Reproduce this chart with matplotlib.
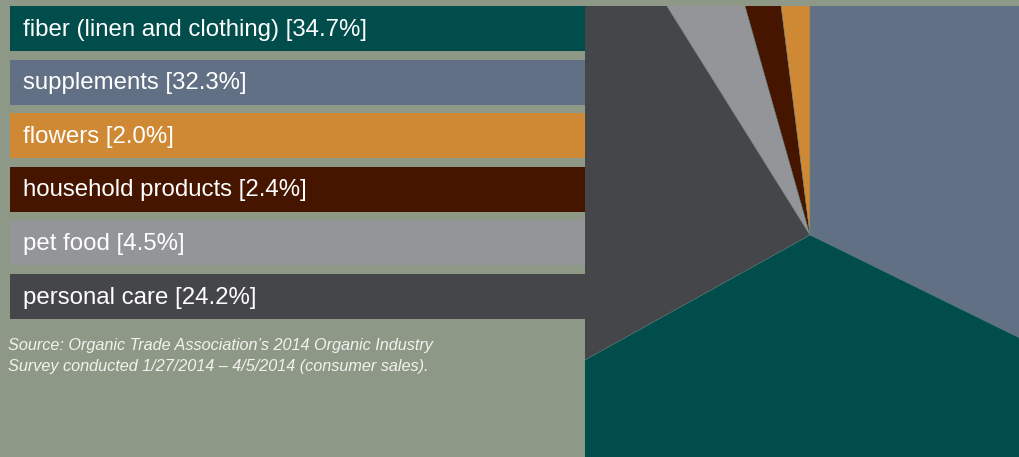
import matplotlib
matplotlib.use("Agg")
import matplotlib.pyplot as plt

# Organic non-food sales share by category (percent)
categories = ["fiber (linen and clothing)", "supplements", "flowers",
              "household products", "pet food", "personal care"]
shares = [34.7, 32.3, 2.0, 2.4, 4.5, 24.2]
colors = ["#014D4B", "#617084", "#CF8935", "#461500", "#939598", "#454649"]
# order in which the wedges run clockwise from 12 o'clock
pie_order = [1, 0, 5, 4, 3, 2]

source_note = ("Source: Organic Trade Association\u2019s 2014 Organic Industry\n"
               "Survey conducted 1/27/2014 \u2013 4/5/2014 (consumer sales).")

BG = "#8E9886"
W, H = 1019, 457
fig = plt.figure(figsize=(W / 100, H / 100), dpi=100, facecolor=BG)
plt.rcParams["font.family"] = ["Liberation Sans", "DejaVu Sans"]


def px_axes(x0, y0, x1, y1):
    """Axes from pixel box (top-left origin)."""
    return fig.add_axes([x0 / W, 1 - y1 / H, (x1 - x0) / W, (y1 - y0) / H])


# --- category rows on the left -------------------------------------------
axb = px_axes(10, 1.7, 585, 323.3)
axb.set_facecolor("none")
n = len(categories)
ypos = list(range(n))
axb.barh(ypos, [1] * n, height=0.84, left=0, color=colors, edgecolor="none")
axb.set_xlim(0, 1)
axb.set_ylim(n - 0.5, -0.5)
axb.axis("off")
for i, (name, val) in enumerate(zip(categories, shares)):
    axb.text(0.023, i + 0.02, f"{name} [{val:.1f}%]", color="white",
             fontsize=17.3, va="center", ha="left",
             transform=axb.get_yaxis_transform())

fig.text(8 / W, 1 - 338 / H, source_note, color="#F2F2EE", fontsize=11.7,
         style="italic", va="top", ha="left", linespacing=1.5)

# --- pie, drawn large and cropped by its axes -----------------------------
axp = px_axes(585, 6, W, H)
wedges, _ = axp.pie([shares[k] for k in pie_order],
                    colors=[colors[k] for k in pie_order],
                    startangle=90, counterclock=False, radius=700,
                    center=(0, 0),
                    wedgeprops=dict(edgecolor="#5f7f7c", linewidth=0.3))
for w in wedges:
    w.set_clip_on(True)
axp.set_aspect("auto")
axp.set_xlim(-225, 209)
axp.set_ylim(-222, 229)
axp.axis("off")

fig.savefig("out.png", dpi=100, facecolor=BG)
